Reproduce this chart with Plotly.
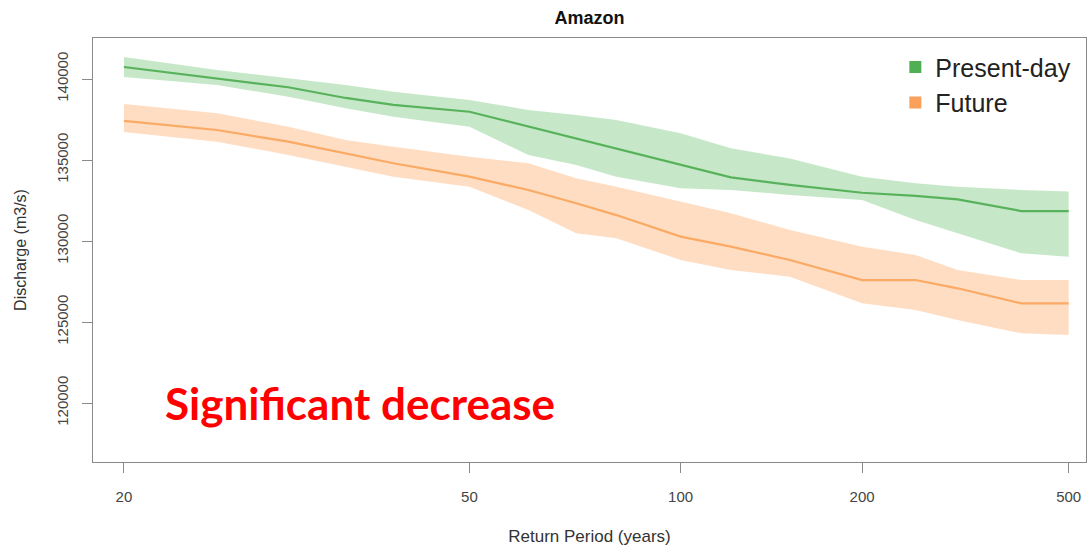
import numpy as np
import plotly.graph_objects as go

# Return periods (years)
return_period = [20, 25, 30, 35, 40, 50, 60, 70, 80, 100, 120, 150, 200, 250, 300, 400, 500]

# Present-day discharge (m3/s): median and uncertainty band
present_median = [140740, 140040, 139490, 138830, 138400, 137980, 137060, 136340, 135720,
                  134690, 133930, 133460, 132980, 132780, 132570, 131850, 131850]
present_upper = [141360, 140560, 140040, 139630, 139220, 138700, 138090, 137780, 137470,
                 136650, 135720, 135100, 133970, 133560, 133350, 133150, 133050]
present_lower = [140120, 139630, 138910, 138190, 137670, 137060, 135310, 134690, 133970,
                 133250, 133150, 132840, 132530, 131300, 130480, 129240, 129030]

# Future discharge (m3/s): median and uncertainty band
future_median = [137410, 136850, 136130, 135410, 134800, 133970, 133150, 132330, 131600,
                 130270, 129650, 128830, 127590, 127590, 127080, 126150, 126150]
future_upper = [138460, 137880, 137060, 136240, 135820, 135200, 134800, 133870, 133350,
                132430, 131710, 130680, 129650, 129140, 128210, 127590, 127590]
future_lower = [136730, 136130, 135310, 134590, 133970, 133350, 131910, 130480, 130170,
                128830, 128210, 127800, 126150, 125740, 125120, 124300, 124200]

tick_periods = [20, 50, 100, 200, 500]
tick_text = ["20", "50", "100", "200", "500"]
y_ticks = [120000, 125000, 130000, 135000, 140000]


def gumbel_like(t):
    # double-log return-period axis
    return np.log(np.log(np.asarray(t, dtype=float)))


xs = gumbel_like(return_period)

fig = go.Figure()


def add_series(name, med, up, lo, line_col, fill_col, leg_col):
    fig.add_trace(go.Scatter(
        x=np.concatenate([xs, xs[::-1]]),
        y=np.concatenate([np.asarray(up), np.asarray(lo)[::-1]]),
        fill="toself", fillcolor=fill_col, line=dict(width=0, color=fill_col),
        mode="lines", showlegend=False, hoverinfo="skip"))
    fig.add_trace(go.Scatter(
        x=xs, y=med, mode="lines", line=dict(color=line_col, width=2.2),
        showlegend=False, name=name))
    fig.add_trace(go.Scatter(
        x=[None], y=[None], mode="markers", name=name,
        marker=dict(symbol="square", size=9, color=leg_col)))


add_series("Present-day", present_median, present_upper, present_lower,
           "rgb(88,178,92)", "rgba(120,200,125,0.42)", "rgb(80,175,85)")
add_series("Future", future_median, future_upper, future_lower,
           "rgb(250,170,100)", "rgba(253,175,110,0.42)", "rgb(250,160,90)")

axis_common = dict(showline=True, linecolor="#8a8a8a", linewidth=1, mirror=True,
                   ticks="outside", ticklen=10, tickcolor="#8a8a8a",
                   showgrid=False, zeroline=False,
                   tickfont=dict(family="Liberation Sans, Arial", size=15, color="#444"))

fig.update_layout(
    width=1092, height=552,
    margin=dict(l=93, r=6, t=38, b=90),
    paper_bgcolor="white", plot_bgcolor="white",
    title=dict(text="<b>Amazon</b>", x=0.5, xref="paper", xanchor="center",
               y=1 - 18 / 552, yref="container", yanchor="middle",
               font=dict(family="Liberation Sans, Arial", size=18, color="#111")),
    xaxis=dict(axis_common, range=[1.0733, 1.8403],
               tickvals=gumbel_like(tick_periods), ticktext=tick_text,
               ticklabelstandoff=11,
               title=dict(text="Return Period (years)", standoff=26,
                          font=dict(family="Liberation Sans, Arial", size=17, color="#333"))),
    yaxis=dict(axis_common, range=[116358, 142531], tickvals=y_ticks,
               tickformat="d", tickangle=-90, ticklabelstandoff=8,
               title=dict(text="Discharge (m3/s)", standoff=23,
                          font=dict(family="Liberation Sans, Arial", size=16, color="#333"))),
    legend=dict(x=0.808, y=0.985, xanchor="left", yanchor="top",
                bgcolor="rgba(0,0,0,0)", tracegroupgap=0,
                font=dict(family="Liberation Sans, Arial", size=25, color="#222"),
                itemsizing="constant"),
)

fig.add_annotation(text="<b>Significant decrease</b>", xref="paper", yref="paper",
                   x=(163 - 93) / 993, y=(462 - 403) / 424, xanchor="left", yanchor="middle",
                   showarrow=False,
                   font=dict(family="Lato, Noto Sans", size=44, color="#ff0000"))

fig.write_html("out.html")
